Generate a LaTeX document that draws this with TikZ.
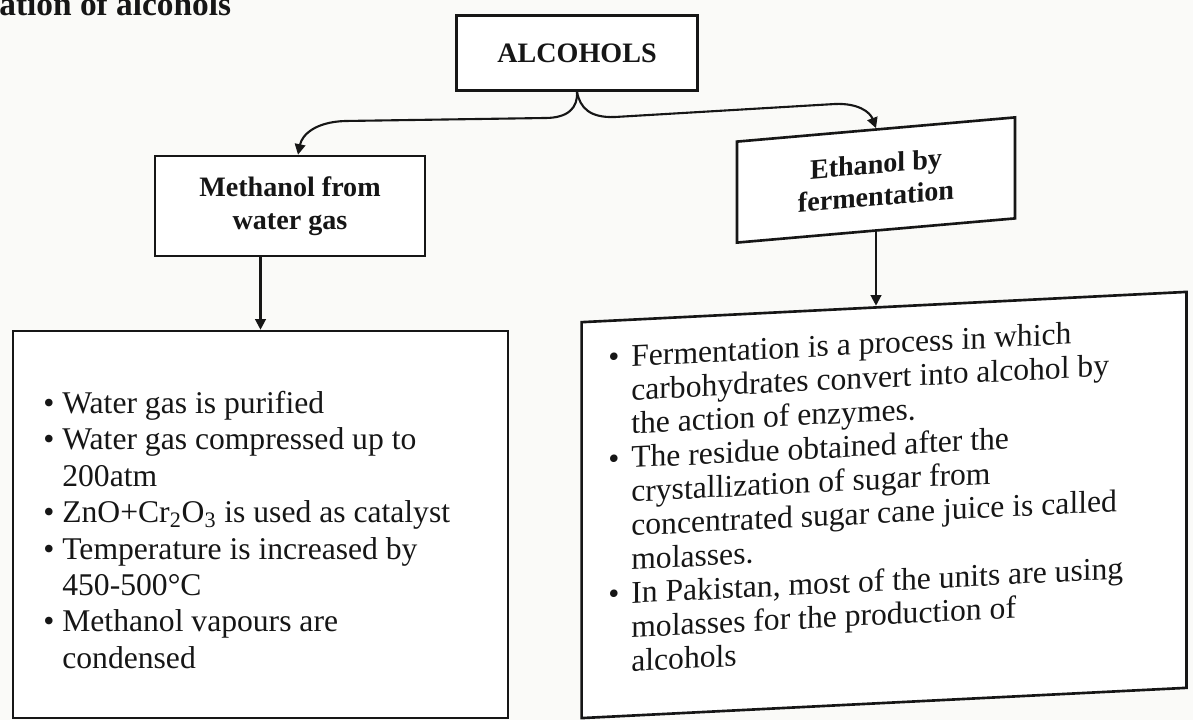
\documentclass[tikz,border=0pt]{standalone}
\usepackage{fontspec}
\setmainfont{Liberation Serif}
\usetikzlibrary{arrows.meta,calc}
\definecolor{paper}{RGB}{250,250,248}
\definecolor{ink}{RGB}{22,22,22}
\newcommand\bul{\makebox[0.38cm][l]{\textbullet}}
\newcommand\ind{\hspace*{0.38cm}}
\newcommand\rbul{\makebox[0.46cm][l]{\textbullet}}
\newcommand\rind{\hspace*{0.46cm}}
\begin{document}
\begin{tikzpicture}[x=0.02cm,y=-0.02cm,
  box/.style={draw=ink, line width=1.5pt, fill=white, inner sep=0pt},
  head/.style={box, font=\bfseries\fontsize{16}{18.5}\selectfont, align=center, text=ink},
  listtext/.style={align=left, text=ink, inner sep=0pt},
  conn/.style={draw=ink, line width=1.2pt, -{Triangle[length=6pt,width=6pt]}}]
\fill[paper] (0,0) rectangle (1193,720);
\useasboundingbox (0,0) rectangle (1193,720);

\node[anchor=base west, font=\bfseries\fontsize{19}{22}\selectfont, inner sep=0pt, text=ink] (title) at (-1,15) {ation of alcohols};

\node[head, minimum width=4.82cm, minimum height=1.5cm] (alc) at (577,53) {ALCOHOLS};
\node[head, minimum width=5.4cm, minimum height=2cm] (meth) at (290,206) {Methanol from\\water gas};
\node[head, yslant=0.087, minimum width=5.56cm, minimum height=2.02cm] (eth) at (876,180) {Ethanol by\\fermentation};
\node[box, minimum width=9.9cm, minimum height=7.74cm] (lbox) at (260.5,524.5) {};
\node[box, yslant=0.05, minimum width=12.1cm, minimum height=7.92cm] (rbox) at (884,505) {};

\node[listtext, anchor=north west, font=\fontsize{18}{20.7}\selectfont] (ltext) at (43,391) {%
\bul Water gas is purified\\
\bul Water gas compressed up to\\
\ind 200atm\\
\bul ZnO+Cr\textsubscript{2}O\textsubscript{3} is used as catalyst\\
\bul Temperature is increased by\\
\ind 450-500°C\\
\bul Methanol vapours are\\
\ind condensed};

\node[listtext, anchor=north west, yslant=0.05, font=\fontsize{18}{19.3}\selectfont] (rtext) at (608,345) {%
\rbul Fermentation is a process in which\\
\rind carbohydrates convert into alcohol by\\
\rind the action of enzymes.\\
\rbul The residue obtained after the\\
\rind crystallization of sugar from\\
\rind concentrated sugar cane juice is called\\
\rind molasses.\\
\rbul In Pakistan, most of the units are using\\
\rind molasses for the production of\\
\rind alcohols};

\draw[conn] (alc.south) .. controls (578,108) and (568,118) .. (545,118) -- (345,121) .. controls (315,122) and (302,135) .. ([xshift=0.16cm]meth.north);
\draw[conn] (alc.south) .. controls (580,108) and (590,118) .. (615,117) -- (835,104) .. controls (858,103) and (870,112) .. (eth.north);
\draw[conn] (meth.south -| lbox.north) -- (lbox.north);
\draw[conn] (eth.south) -- (eth.south |- rbox.north);
\end{tikzpicture}
\end{document}
